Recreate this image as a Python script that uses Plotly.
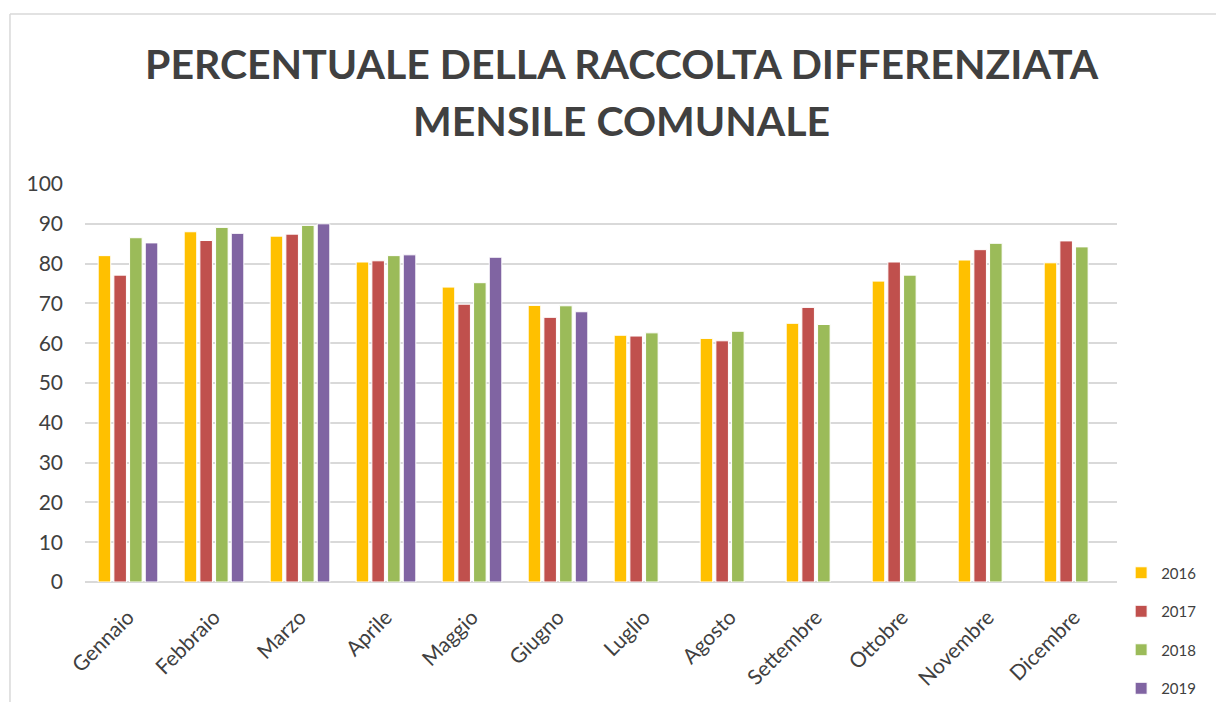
import plotly.graph_objects as go

mesi = ["Gennaio", "Febbraio", "Marzo", "Aprile", "Maggio", "Giugno",
        "Luglio", "Agosto", "Settembre", "Ottobre", "Novembre", "Dicembre"]

anno_2016 = [82.0, 88.0, 86.9, 80.4, 74.1, 69.5, 62.0, 61.2, 65.0, 75.6, 80.9, 80.2]
anno_2017 = [77.1, 85.8, 87.4, 80.7, 69.8, 66.5, 61.8, 60.6, 69.0, 80.4, 83.5, 85.7]
anno_2018 = [86.5, 89.1, 89.6, 82.0, 75.2, 69.4, 62.6, 63.0, 64.7, 77.1, 85.1, 84.2]
anno_2019 = [85.2, 87.6, 90.0, 82.2, 81.6, 67.9, None, None, None, None, None, None]

serie = [
    ("2016", anno_2016, "#FFC000"),
    ("2017", anno_2017, "#C0504D"),
    ("2018", anno_2018, "#9BBB59"),
    ("2019", anno_2019, "#8064A2"),
]

titolo = ["PERCENTUALE DELLA RACCOLTA DIFFERENZIATA", "MENSILE COMUNALE"]

fig = go.Figure()
for nome, valori, colore in serie:
    fig.add_trace(go.Bar(
        x=mesi, y=valori, name=nome,
        marker=dict(color=colore, line=dict(color="white", width=1)),
        legendgroup=nome,
    ))

# titolo su due righe, come annotazioni per controllare l'interlinea
for riga, ypos in zip(titolo, [1.304, 1.159]):
    fig.add_annotation(
        text="<b>%s</b>" % riga, xref="paper", yref="paper",
        x=0.52, y=ypos, xanchor="center", yanchor="middle", showarrow=False,
        font=dict(size=41, color="#404040", family="Lato, Calibri, sans-serif"),
    )

# la pagina ha un margine di 8px: la figura e' 1216x694
fig.update_layout(
    width=1216, height=694,
    paper_bgcolor="white", plot_bgcolor="white",
    font=dict(family="Lato, Calibri, sans-serif", color="#404040"),
    margin=dict(l=77, r=107, t=176, b=120, autoexpand=False),
    barmode="group", bargap=0.27, bargroupgap=0.2,
    showlegend=True,
    legend=dict(
        x=1.004, xanchor="left", y=0.064, yanchor="top",
        font=dict(size=15, color="#404040"),
        traceorder="grouped", tracegroupgap=16,
        itemwidth=30,
    ),
    xaxis=dict(
        tickangle=-45, tickfont=dict(size=21, color="#404040"),
        showgrid=False, showline=False, ticks="", automargin=False,
        ticklabelstandoff=18,
    ),
    yaxis=dict(
        range=[0, 100], dtick=10, tickfont=dict(size=21, color="#404040"),
        showgrid=True, gridcolor="#d9d9d9", gridwidth=1.5,
        zeroline=True, zerolinecolor="#d9d9d9", zerolinewidth=1.5,
        ticks="", automargin=False, ticklabelstandoff=21,
    ),
    shapes=[
        dict(type="line", xref="paper", yref="paper",
             x0=-0.0727, x1=1.11, y0=1.427, y1=1.427,
             line=dict(color="#d9d9d9", width=1.5)),
        dict(type="line", xref="paper", yref="paper",
             x0=-0.0727, x1=-0.0727, y0=1.427, y1=-0.32,
             line=dict(color="#d9d9d9", width=1.5)),
    ],
)

fig.write_html("out.html")
